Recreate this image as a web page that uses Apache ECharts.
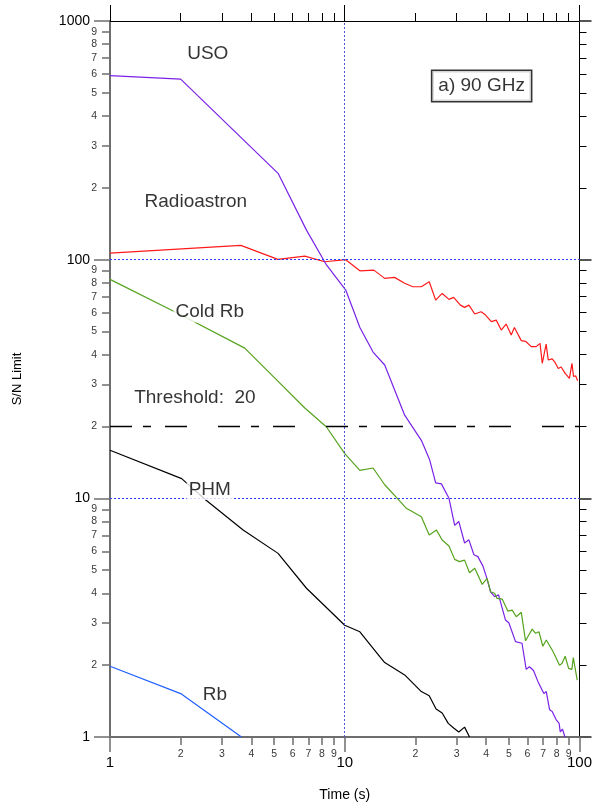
<!DOCTYPE html>
<html><head><meta charset="utf-8">
<script src="https://cdn.jsdelivr.net/npm/echarts@6/dist/echarts.min.js"></script>
<style>html,body{margin:0;padding:0;background:#fff}#c{width:595px;height:809px}</style>
</head><body><div id="c"></div>
<script>
// ---- data (time in s, S/N limit) ----
const radioastron = [[1,106.6],[3.61,114.8],[5.19,100.3],[6.76,103.5],[8.22,98],[10.1,100],[11.6,89.8],[13.3,90.4],[14.8,83.5],[16.3,84.3],[18.0,79.6],[19.5,77.0],[21.2,77],[22.9,80.8],[24.4,67.7],[26.0,72.2],[27.8,68.2],[29.1,69.5],[31.1,64.5],[32.4,63.1],[33.8,64.5],[35.8,59.2],[38.1,60.5],[39.8,58.6],[42.1,55.0],[44.2,55.8],[46.4,50.7],[48.7,53.7],[51.2,48.3],[52.8,52.0],[56.5,45.8],[58.9,45.5],[62.3,43.2],[65.4,43.2],[67.9,44.6],[69.4,36.8],[72.1,44.3],[73.6,38.0],[76.5,38.4],[78.8,37.0],[81.2,35.0],[83.5,35.5],[86.9,33.4],[90.6,31.8],[92.9,36.8],[94.3,32.4],[96.3,32.6],[98.2,31.1]];
const uso = [[1,590],[2,571],[5.2,230],[6.87,133],[8.36,95],[10.1,74.6],[11.6,52],[13.2,41],[14.8,36.2],[18.0,22.3],[21.2,17.5],[23.0,14.5],[24.4,11.6],[25.8,11.5],[27.8,10],[29.4,7.7],[30.6,8.0],[32.4,6.5],[33.8,6.7],[35.5,5.8],[36.9,5.7],[38.8,5.2],[40.1,4.7],[41.8,4.06],[43.5,3.87],[45.2,3.94],[48.4,3.09],[50.0,3.01],[53.4,2.51],[56.9,2.47],[59.3,1.92],[61.2,1.97],[63.7,1.90],[66.5,1.71],[70.5,1.52],[72.2,1.55],[74.6,1.30],[76.5,1.28],[79.6,1.18],[81.9,1.14],[82.8,1.05],[84.6,1.08],[86.7,1.0]];
const coldRb = [[1,82.7],[2,58.8],[3.75,42.6],[5.04,31.9],[6.76,23.9],[8.36,19.9],[10,15.4],[11.6,13.1],[13.2,13.4],[14.8,11.4],[16.9,9.9],[18.3,9.08],[21.2,8.37],[22.9,7.02],[24.6,7.36],[26.0,6.69],[27.8,6.31],[29.4,5.55],[30.8,5.43],[32.4,5.51],[34.0,4.88],[35.8,5.09],[38.5,4.36],[40.4,4.62],[41.8,4.06],[43.5,4.0],[44.5,3.81],[46.9,3.78],[49.5,3.37],[51.7,3.40],[53.8,3.19],[56.5,3.33],[58.9,2.53],[60.9,2.68],[62.9,2.83],[65.0,2.72],[67.2,2.76],[69.8,2.40],[72.2,2.55],[76.6,2.31],[79.1,2.17],[82.2,2.0],[84.2,2.03],[86.9,2.18],[89.9,1.94],[92.8,1.92],[94.1,2.15],[97.8,1.73]];
const phm = [[1,15.9],[2.02,12.1],[2.56,9.84],[3.69,7.37],[5.2,5.88],[6.87,4.2],[10,2.94],[11.6,2.76],[14.1,2.17],[14.8,2.05],[18.0,1.82],[21.2,1.55],[22.9,1.49],[24.5,1.31],[26.0,1.26],[27.6,1.14],[29.1,1.09],[30.6,1.05],[32.4,1.10],[34.0,1.0]];
const rb = [[1,1.98],[2.0,1.52],[3.63,1.0]];

// ---- reference levels ----
const dottedLevels = [100, 10];
const dottedTime = 10;
const threshold = 20;

// ---- tick labels ----
const xRange = [1, 100];
const yRange = [1, 1000];
const xMinorTicks = [2,3,4,5,6,7,8,9,20,30,40,50,60,70,80,90];
const yMinorTicks = [2,3,4,5,6,7,8,9,20,30,40,50,60,70,80,90,200,300,400,500,600,700,800,900];

// ---- annotations [time, S/N, text] ----
const annotations = [[2.61,727,'USO'],[2.32,174,'Radioastron'],[2.66,60.3,'Cold Rb'],[2.30,26.3,'Threshold:  20'],[2.66,10.9,'PHM'],[2.80,1.51,'Rb']];
const panelLabel = [38.3, 534, 'a) 90 GHz'];

const FONT = '"Liberation Sans", Arial, Helvetica, sans-serif';
const GREY = '#6e6e6e';
const DOT = '#2b3cff';

function lineSeries(name, data, color) {
  return { name, type: 'line', data, showSymbol: false, symbol: 'none', silent: true,
    lineStyle: { color, width: 1.2 }, itemStyle: { color }, z: 3 };
}

const chart = echarts.init(document.getElementById('c'));
const radioSeries = lineSeries('Radioastron', radioastron, '#ff1a1a');
radioSeries.markLine = {
  silent: true, symbol: ['none','none'], label: { show: false }, animation: false,
  lineStyle: { color: DOT, width: 1, type: [2,2], opacity: 1 },
  data: [
    ...dottedLevels.map(v => ({ yAxis: v, lineStyle: { color: DOT, width: 1, type: [2,2] } })),
    { xAxis: dottedTime, lineStyle: { color: '#4a55c8', width: 1, type: [2,2] } },
    { yAxis: threshold, lineStyle: { color: '#000', width: 1.3, type: [22,11,8,14,22,31] } }
  ]
};

chart.setOption({
  animation: false,
  textStyle: { fontFamily: FONT },
  grid: { left: 110, right: 15, top: 21, bottom: 72, containLabel: false },
  xAxis: [
    { type: 'log', logBase: 10, min: xRange[0], max: xRange[1], position: 'bottom',
      axisLine: { show: true, lineStyle: { color: GREY, width: 2 } },
      axisTick: { show: true, inside: false, length: 15, lineStyle: { color: GREY, width: 1.5 } },
      minorTick: { show: true, splitNumber: 9, length: 8, lineStyle: { color: GREY, width: 1.5 } },
      axisLabel: { fontSize: 15, margin: 18, color: '#000', fontFamily: FONT, formatter: v => String(v) },
      splitLine: { show: false }, minorSplitLine: { show: false },
      name: 'Time (s)', nameLocation: 'middle', nameGap: 51,
      nameTextStyle: { fontSize: 14, color: '#000', fontFamily: FONT } },
    { type: 'log', logBase: 10, min: xRange[0], max: xRange[1], position: 'top',
      axisLine: { show: true, lineStyle: { color: '#000', width: 1 } },
      axisTick: { show: true, inside: false, length: 16, lineStyle: { color: '#000', width: 1 } },
      minorTick: { show: true, splitNumber: 9, length: 8, lineStyle: { color: '#000', width: 1 } },
      axisLabel: { show: false }, splitLine: { show: false } }
  ],
  yAxis: [
    { type: 'log', logBase: 10, min: yRange[0], max: yRange[1], position: 'left',
      axisLine: { show: true, lineStyle: { color: GREY, width: 2 } },
      axisTick: { show: true, inside: false, length: 16, lineStyle: { color: GREY, width: 1.5 } },
      minorTick: { show: true, splitNumber: 9, length: 8, lineStyle: { color: GREY, width: 1.5 } },
      axisLabel: { fontSize: 14, margin: 20, color: '#000', fontFamily: FONT, formatter: v => String(v) },
      splitLine: { show: false }, minorSplitLine: { show: false },
      name: 'S/N Limit', nameLocation: 'middle', nameGap: 86, nameRotate: 90,
      nameTextStyle: { fontSize: 13, color: '#000', fontFamily: FONT } },
    { type: 'log', logBase: 10, min: yRange[0], max: yRange[1], position: 'right',
      axisLine: { show: true, lineStyle: { color: '#000', width: 1 } },
      axisTick: { show: true, inside: false, length: 12, lineStyle: { color: '#555', width: 2 } },
      minorTick: { show: true, splitNumber: 9, length: 7, lineStyle: { color: '#000', width: 1 } },
      axisLabel: { show: false }, splitLine: { show: false } }
  ],
  series: [
    radioSeries,
    lineSeries('USO', uso, '#7a22e6'),
    lineSeries('Cold Rb', coldRb, '#56a31e'),
    lineSeries('PHM', phm, '#000000'),
    lineSeries('Rb', rb, '#2060ff'),
    { type: 'scatter', name: 'xMinorLabels', clip: false, silent: true, symbolSize: 0, z: 5,
      data: xMinorTicks.map(v => [v, yRange[0]]),
      label: { show: true, position: 'bottom', distance: 12, fontSize: 10.5, color: '#000', fontFamily: FONT,
        formatter: p => String(p.value[0]).charAt(0) } },
    { type: 'scatter', name: 'yMinorLabels', clip: false, silent: true, symbolSize: 0, z: 5,
      data: yMinorTicks.map(v => [xRange[0], v]),
      label: { show: true, position: 'left', distance: 13, fontSize: 10.5, color: '#000', fontFamily: FONT,
        formatter: p => String(p.value[1]).charAt(0) } },
    { type: 'scatter', name: 'annotations', clip: false, silent: true, symbolSize: 0, z: 10,
      data: annotations.map(a => ({ value: [a[0], a[1]], text: a[2] })).concat([
        { value: [panelLabel[0], panelLabel[1]], text: panelLabel[2],
          label: { borderColor: '#000', borderWidth: 1.5, padding: [6, 6, 5, 6] } }
      ]),
      label: { show: true, position: 'inside', fontSize: 19, color: '#000', fontFamily: FONT,
        backgroundColor: '#fff', padding: [1, 2],
        formatter: p => p.data.text } }
  ]
});
</script>
</body></html>
